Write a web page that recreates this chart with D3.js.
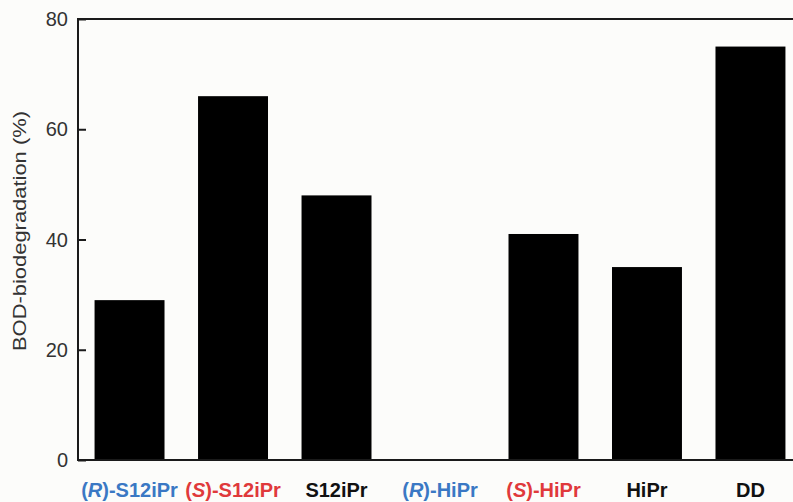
<!DOCTYPE html>
<html>
<head>
<meta charset="utf-8">
<script src="https://cdn.jsdelivr.net/npm/d3@7"></script>
<style>
  body { margin: 0; background: #fcfcfa; overflow: hidden; }
  text { font-family: "Liberation Sans", Arial, sans-serif; }
</style>
</head>
<body>
<svg id="chart" width="793" height="502"></svg>
<script>
// data
const compounds = ["(R)-S12iPr", "(S)-S12iPr", "S12iPr", "(R)-HiPr", "(S)-HiPr", "HiPr", "DD"];
const bodValues = [29, 66, 48, 0, 41, 35, 75];
// label parts: letter in parens (italic) or null, the rest, colour
const labelPrefix = ["R", "S", null, "R", "S", null, null];
const labelRest = ["-S12iPr", "-S12iPr", "S12iPr", "-HiPr", "-HiPr", "HiPr", "DD"];
const labelColor = ["#3a78c4", "#e0393b", "#111", "#3a78c4", "#e0393b", "#111", "#111"];
const yTicks = [0, 20, 40, 60, 80];

const svg = d3.select("#chart");
const plotLeft = 78, plotTop = 19, plotBottom = 460, plotRight = 802; // right edge is cropped off in the original

let x = d3.scaleBand()
    .domain(compounds)
    .range([plotLeft, plotRight])
    .paddingInner(0.324)
    .paddingOuter(0.16);

let y = d3.scaleLinear().domain([0, 80]).range([plotBottom, plotTop]);

// bars
svg.selectAll("rect.bar")
    .data(compounds)
    .enter()
    .append("rect")
    .attr("class", "bar")
    .attr("x", d => x(d))
    .attr("width", x.bandwidth())
    .attr("y", (d, i) => y(bodValues[i]))
    .attr("height", (d, i) => plotBottom - y(bodValues[i]))
    .attr("fill", "#000");

// frame
svg.append("rect")
    .attr("x", plotLeft)
    .attr("y", plotTop)
    .attr("width", plotRight - plotLeft)
    .attr("height", plotBottom - plotTop)
    .attr("fill", "none")
    .attr("stroke", "#1a1a1a")
    .attr("stroke-width", 2);

// y axis, ticks pointing inwards
let yAxis = svg.append("g")
    .attr("transform", "translate(" + plotLeft + ",0)")
    .call(d3.axisRight(y).tickValues(yTicks).tickSize(8).tickFormat(""));
yAxis.select(".domain").remove();
yAxis.selectAll("line").attr("stroke", "#1a1a1a").attr("stroke-width", 2);

svg.selectAll("text.ytick")
    .data(yTicks)
    .enter()
    .append("text")
    .attr("class", "ytick")
    .attr("x", 68)
    .attr("y", d => y(d))
    .attr("dy", "0.36em")
    .attr("text-anchor", "end")
    .attr("font-size", 20)
    .attr("fill", "#333")
    .text(d => d);

// y label (the original is a bit stretched lengthwise)
svg.append("text")
    .attr("transform", "translate(26,231) rotate(-90)")
    .attr("text-anchor", "middle")
    .attr("font-size", 18)
    .attr("textLength", 240)
    .attr("lengthAdjust", "spacingAndGlyphs")
    .attr("fill", "#333")
    .text("BOD-biodegradation (%)");

// x labels with italic R / S
let labels = svg.selectAll("text.xlab")
    .data(compounds)
    .enter()
    .append("text")
    .attr("class", "xlab")
    .attr("x", d => x(d) + x.bandwidth() / 2)
    .attr("y", 497)
    .attr("text-anchor", "middle")
    .attr("font-size", 20)
    .attr("font-weight", "bold")
    .attr("fill", (d, i) => labelColor[i]);

labels.each(function(d, i) {
    let t = d3.select(this);
    if (labelPrefix[i]) {
        t.append("tspan").text("(");
        t.append("tspan").attr("font-style", "italic").text(labelPrefix[i]);
        t.append("tspan").text(")");
    }
    t.append("tspan").text(labelRest[i]);
});
</script>
</body>
</html>
